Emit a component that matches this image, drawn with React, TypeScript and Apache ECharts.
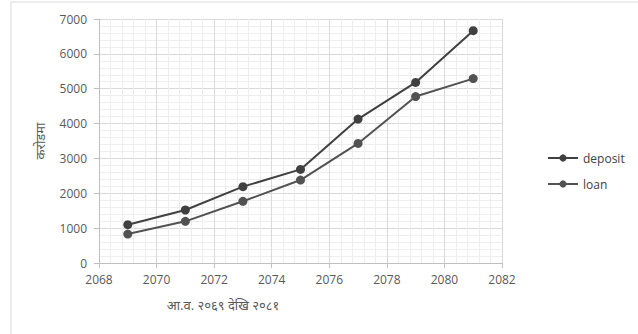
import React, { useEffect, useRef } from "react";
import * as echarts from "echarts";

const years = [2069, 2071, 2073, 2075, 2077, 2079, 2081];
const deposit = [1100, 1520, 2190, 2685, 4130, 5180, 6665];
const loan = [830, 1195, 1770, 2380, 3430, 4775, 5290];
const seriesNames = ["deposit", "loan"];
const xTitle = "आ.व. २०६९ देखि २०८१";
const yTitle = "करोडमा";

export default function App() {
  const ref = useRef<HTMLDivElement>(null);
  useEffect(() => {
    const chart = echarts.init(ref.current!, null, { renderer: "svg" });
    const font = "'Open Sans', 'Noto Sans', sans-serif";
    const plain = (v: number) => String(v);
    chart.setOption({
      animation: false,
      backgroundColor: "#fff",
      textStyle: { fontFamily: font },
      grid: { left: 99, right: 136, top: 19, bottom: 71 },
      xAxis: {
        type: "value",
        min: 2068,
        max: 2082,
        interval: 2,
        axisLine: { show: true, lineStyle: { color: "#bfbfbf" } },
        axisTick: { show: true, length: 5, lineStyle: { color: "#bfbfbf" } },
        axisLabel: { color: "#595959", fontSize: 12, margin: 10, fontFamily: font, formatter: plain },
        splitLine: { show: true, lineStyle: { color: "#d9d9d9" } },
        minorTick: { show: false, splitNumber: 5 },
        minorSplitLine: { show: true, lineStyle: { color: "#eeeeee" } },
      },
      yAxis: {
        type: "value",
        min: 0,
        max: 7000,
        interval: 1000,
        axisLine: { show: true, lineStyle: { color: "#bfbfbf" } },
        axisTick: { show: true, length: 5, lineStyle: { color: "#bfbfbf" } },
        axisLabel: { color: "#595959", fontSize: 12, margin: 12, fontFamily: font, formatter: plain },
        splitLine: { show: true, lineStyle: { color: "#d9d9d9" } },
        minorTick: { show: false, splitNumber: 5 },
        minorSplitLine: { show: true, lineStyle: { color: "#eeeeee" } },
      },
      legend: {
        orient: "vertical",
        left: 542,
        top: 147,
        itemWidth: 30,
        itemHeight: 9,
        itemGap: 14,
        data: seriesNames,
        textStyle: { color: "#404040", fontSize: 12, fontFamily: font },
      },
      graphic: [
        {
          type: "rect",
          shape: { x: 11, y: 2, width: 700, height: 400 },
          style: { fill: "none", stroke: "#d9d9d9", lineWidth: 1 },
          silent: true,
        },
        {
          type: "text",
          x: 223,
          y: 305,
          style: {
            text: xTitle,
            fill: "#595959",
            fontSize: 13,
            fontFamily: font,
            align: "center",
            verticalAlign: "middle",
          },
        },
        {
          type: "text",
          x: 40,
          y: 141,
          rotation: Math.PI / 2,
          style: {
            text: yTitle,
            fill: "#595959",
            fontSize: 13,
            fontFamily: font,
            align: "center",
            verticalAlign: "middle",
          },
        },
      ],
      series: [
        {
          name: seriesNames[0],
          type: "line",
          data: years.map((y, i) => [y, deposit[i]]),
          symbol: "circle",
          symbolSize: 9,
          lineStyle: { color: "#404040", width: 2 },
          itemStyle: { color: "#404040" },
        },
        {
          name: seriesNames[1],
          type: "line",
          data: years.map((y, i) => [y, loan[i]]),
          symbol: "circle",
          symbolSize: 9,
          lineStyle: { color: "#525252", width: 2 },
          itemStyle: { color: "#525252" },
        },
      ],
    });
    return () => chart.dispose();
  }, []);
  return <div ref={ref} style={{ width: 638, height: 334, position: "absolute", left: 0, top: 0 }} />;
}
